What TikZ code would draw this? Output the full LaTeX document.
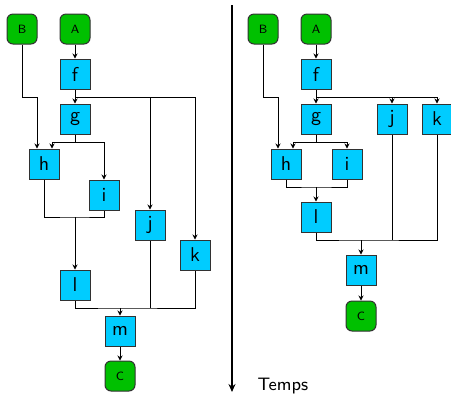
\documentclass[tikz,border=0pt]{standalone}
\usepackage{tikz}
\usetikzlibrary{arrows.meta}

\definecolor{taskblue}{RGB}{0,204,255}
\definecolor{evgreen}{RGB}{0,192,0}
\definecolor{edgegray}{RGB}{50,50,50}

\begin{document}
\begin{tikzpicture}[x=0.5pt,y=-0.5pt,font=\sffamily,
  task/.style={draw=edgegray,fill=taskblue,minimum size=15pt,inner sep=0pt,line width=0.5pt},
  event/.style={draw=edgegray,fill=evgreen,minimum size=15pt,inner sep=0pt,rounded corners=3pt,line width=0.5pt,font=\sffamily\fontsize{6}{7}\selectfont},
  every path/.style={line width=0.5pt},
  >={Stealth[length=2.5pt,width=2.5pt]}]
  \useasboundingbox (0,0) rectangle (451,393);

  % ordre initial
  \draw (22,29) node[event] (B1) {B};
  \draw (75,29) node[event] (A1) {A};
  \draw (75,74) node[task] (f1) {f};
  \draw (75,119) node[task] (g1) {g};
  \draw (44,164) node[task] (h1) {h};
  \draw (104,195) node[task] (i1) {i};
  \draw (150,225) node[task] (j1) {j};
  \draw (195,255) node[task] (k1) {k};
  \draw (75,285) node[task] (l1) {l};
  \draw (120,331) node[task] (m1) {m};
  \draw (120,376) node[event] (C1) {C};

  \coordinate (fj1) at (75,97);
  \coordinate (gj1) at (75,142);
  \coordinate (hij1) at (75,217);
  \coordinate (mj1) at (120,308);
  \coordinate (hb1) at ([xshift=-3.5pt]h1.north);
  \coordinate (hg1) at ([xshift=4pt]h1.north);

  \path[->] (A1) edge (f1);
  \path[->] (f1) edge (g1);
  \draw[->] (fj1) -| (j1);
  \draw[->] (fj1) -| (k1);
  \draw[->] (B1) |- (fj1 -| hb1) -- (hb1);
  \draw[->] (g1) |- (gj1) -| (hg1);
  \draw[->] (gj1) -| (i1);
  \draw (h1) |- (hij1) -| (i1);
  \path[->] (hij1) edge (l1);
  \draw (l1) |- (mj1) -| (k1);
  \draw (j1) -- (j1 |- mj1);
  \path[->] (mj1) edge (m1);
  \path[->] (m1) edge (C1);

  % axe du temps
  \coordinate (t0) at (232,5);
  \coordinate (t1) at (232,392);
  \draw[line width=0.8pt,-{Stealth[length=4pt,width=3.5pt]}] (t0) -- (t1);
  \draw (257,390) node[anchor=base west,inner sep=0pt,font=\sffamily\small] (temps) {Temps};

  % ordre parallelise
  \draw (263,29) node[event] (B2) {B};
  \draw (316,29) node[event] (A2) {A};
  \draw (316,74) node[task] (f2) {f};
  \draw (316,119) node[task] (g2) {g};
  \draw (392,119) node[task] (j2) {j};
  \draw (437,119) node[task] (k2) {k};
  \draw (286,164) node[task] (h2) {h};
  \draw (347,164) node[task] (i2) {i};
  \draw (316,217) node[task] (l2) {l};
  \draw (361,270) node[task] (m2) {m};
  \draw (361,316) node[event] (C2) {C};

  \coordinate (fj2) at (316,97);
  \coordinate (gj2) at (316,142);
  \coordinate (hij2) at (316,187);
  \coordinate (mj2) at (361,240);
  \coordinate (hb2) at ([xshift=-4pt]h2.north);
  \coordinate (hg2) at ([xshift=3.5pt]h2.north);

  \path[->] (A2) edge (f2);
  \path[->] (f2) edge (g2);
  \draw[->] (fj2) -| (j2);
  \draw[->] (fj2) -| (k2);
  \draw[->] (B2) |- (fj2 -| hb2) -- (hb2);
  \draw[->] (g2) |- (gj2) -| (hg2);
  \draw[->] (gj2) -| (i2);
  \draw (h2) |- (hij2) -| (i2);
  \path[->] (hij2) edge (l2);
  \draw (l2) |- (mj2) -| (k2);
  \draw (j2) -- (j2 |- mj2);
  \path[->] (mj2) edge (m2);
  \path[->] (m2) edge (C2);
\end{tikzpicture}
\end{document}
